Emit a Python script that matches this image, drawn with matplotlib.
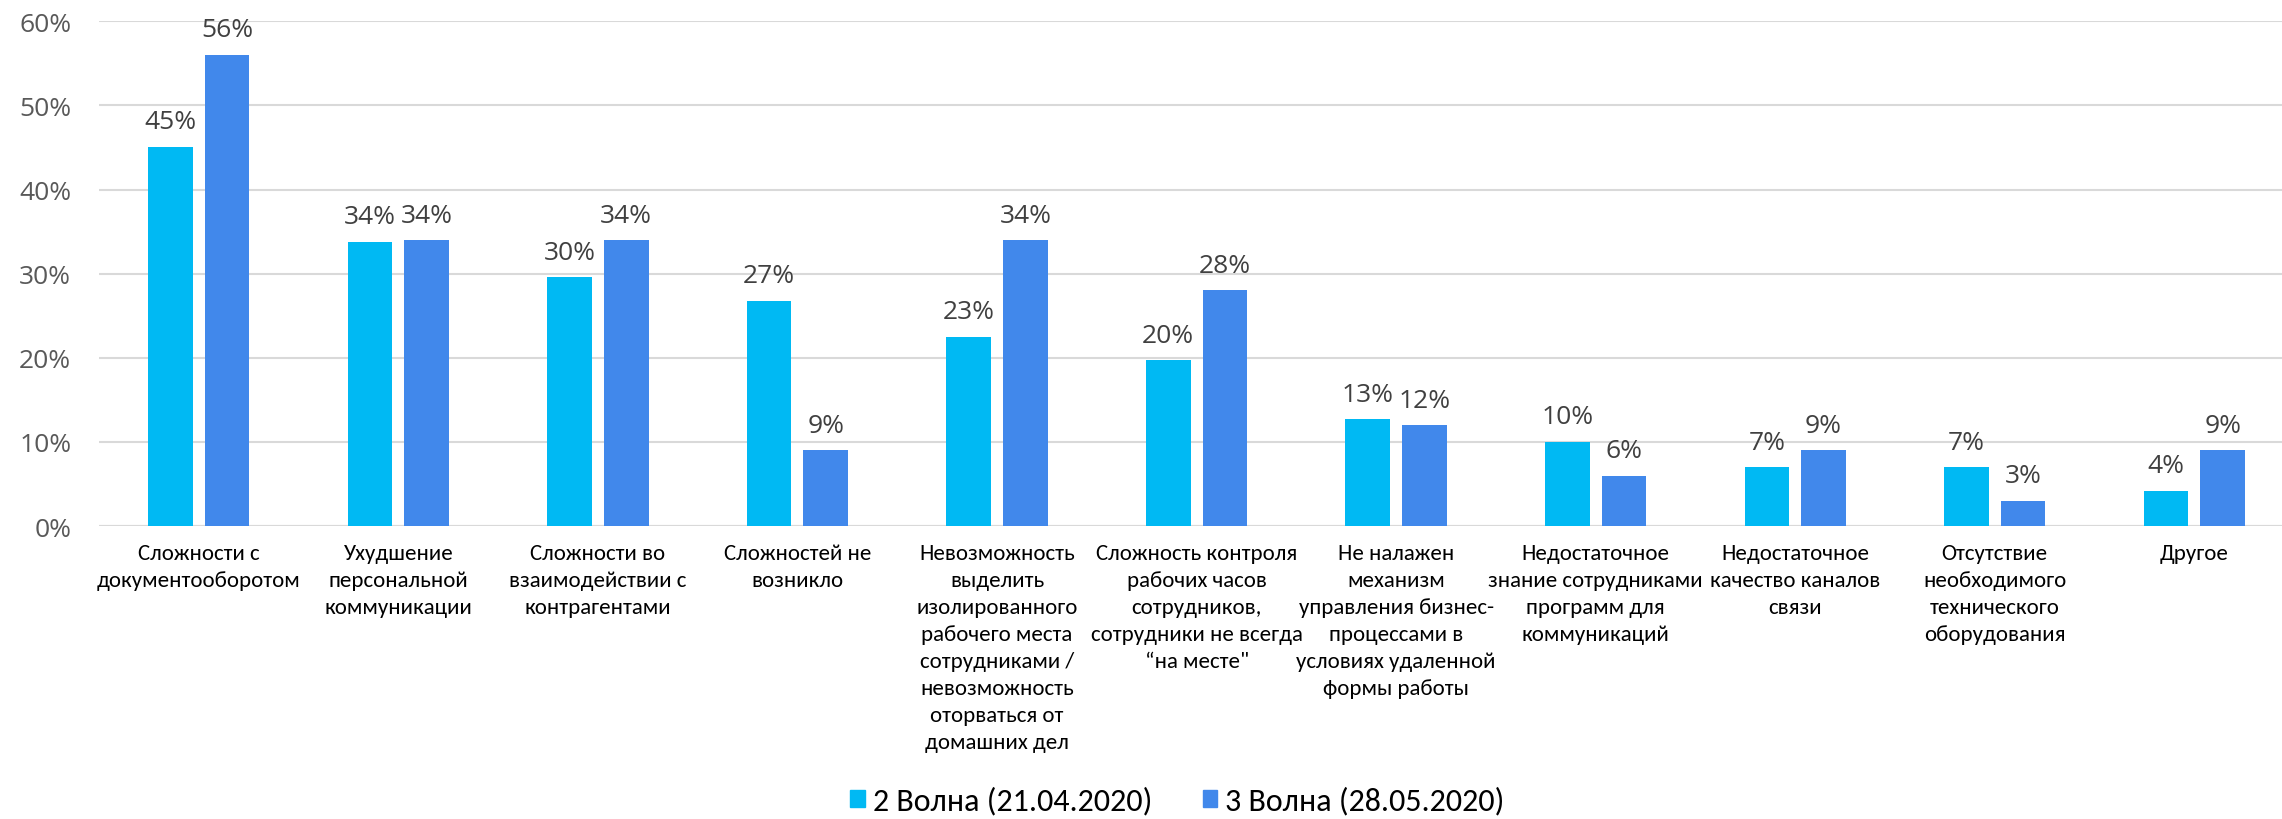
import matplotlib
matplotlib.use('Agg')
import matplotlib.pyplot as plt
import numpy as np
from matplotlib.ticker import PercentFormatter
from matplotlib.patches import Patch

# данные
categories = [
    "Сложности с\nдокументооборотом",
    "Ухудшение\nперсональной\nкоммуникации",
    "Сложности во\nвзаимодействии с\nконтрагентами",
    "Сложностей не\nвозникло",
    "Невозможность\nвыделить\nизолированного\nрабочего места\nсотрудниками /\nневозможность\nоторваться от\nдомашних дел",
    "Сложность контроля\nрабочих часов\nсотрудников,\nсотрудники не всегда\n“на месте\"",
    "Не налажен\nмеханизм\nуправления бизнес-\nпроцессами в\nусловиях удаленной\nформы работы",
    "Недостаточное\nзнание сотрудниками\nпрограмм для\nкоммуникаций",
    "Недостаточное\nкачество каналов\nсвязи",
    "Отсутствие\nнеобходимого\nтехнического\nоборудования",
    "Другое",
]
wave2 = [45.1, 33.8, 29.6, 26.8, 22.5, 19.7, 12.7, 10.0, 7.0, 7.0, 4.2]
wave3 = [56.0, 34.0, 34.0, 9.0, 34.0, 28.0, 12.0, 6.0, 9.0, 3.0, 9.0]
labels2 = ["45%", "34%", "30%", "27%", "23%", "20%", "13%", "10%", "7%", "7%", "4%"]
labels3 = ["56%", "34%", "34%", "9%", "34%", "28%", "12%", "6%", "9%", "3%", "9%"]
series_names = ["2 Волна (21.04.2020)", "3 Волна (28.05.2020)"]

plt.rcParams['font.family'] = ['Carlito', 'PT Sans Narrow', 'DejaVu Sans']
num_font = ['Open Sans', 'DejaVu Sans']

c2 = '#00B9F3'
c3 = '#4188EB'

fig = plt.figure(figsize=(22.82, 8.2), dpi=100)
# ось шире рисунка: справа сетка уходит за край, как в оригинале
ax = fig.add_axes([0.0434, 0.3573, 0.9619, 0.6155])

x = np.arange(len(categories))
w = 0.224
off = 0.142
b2 = ax.bar(x - off, wave2, width=w, color=c2, zorder=3)
b3 = ax.bar(x + off, wave3, width=w, color=c3, zorder=3)

for bars, labs in ((b2, labels2), (b3, labels3)):
    for rect, lab in zip(bars, labs):
        ax.annotate(lab, (rect.get_x() + rect.get_width() / 2, rect.get_height()),
                    xytext=(0, 9), textcoords='offset points',
                    ha='center', va='bottom', fontsize=19, color='#404040',
                    family=num_font)

ax.set_xlim(-0.5, len(categories) - 0.5)
ax.set_ylim(0, 60)
ax.set_yticks(range(0, 61, 10))
ax.yaxis.set_major_formatter(PercentFormatter(decimals=0))
ax.grid(axis='y', color='#D9D9D9', linewidth=1.5, zorder=0)
ax.set_axisbelow(True)
for s in ax.spines.values():
    s.set_visible(False)
ax.axhline(0, color='#D9D9D9', linewidth=1.5, zorder=1)

ax.set_xticks(x)
ax.set_xticklabels(categories, fontsize=16.5, color='#000000', linespacing=1.44, va='top')
ax.tick_params(axis='x', length=0, pad=12)
ax.tick_params(axis='y', length=0, pad=20, labelsize=19, labelcolor='#595959')
for t in ax.get_yticklabels():
    t.set_family(num_font)

handles = [Patch(color=c2), Patch(color=c3)]
fig.legend(handles, series_names, loc='lower center', bbox_to_anchor=(0.516, -0.03),
           ncol=2, frameon=False, fontsize=23, handlelength=0.45, handleheight=0.45,
           handletextpad=0.25, columnspacing=1.6)

plt.savefig('out.png', dpi=100)
